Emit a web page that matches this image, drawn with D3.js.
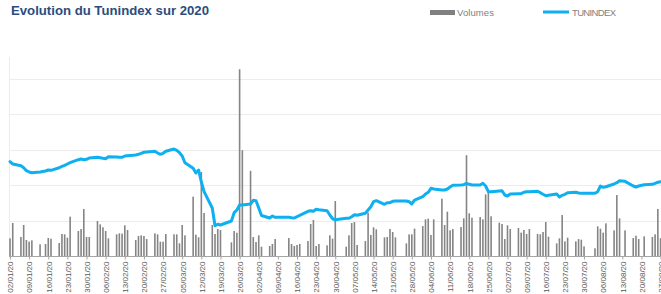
<!DOCTYPE html>
<html>
<head>
<meta charset="utf-8">
<script src="https://cdn.jsdelivr.net/npm/d3@7"></script>
<style>
  body { margin: 0; background: #fff; }
  svg { display: block; }
</style>
</head>
<body>
<div class="chart-container"></div>
<script>
// trading days 2020 (dd/mm)
const dates = [
  "02/01","03/01","06/01","07/01","08/01","09/01","10/01","13/01","15/01","16/01","17/01","20/01","21/01","22/01","23/01","24/01","27/01","28/01","29/01","30/01","31/01",
  "03/02","04/02","05/02","06/02","07/02","10/02","11/02","12/02","13/02","14/02","17/02","18/02","19/02","20/02","21/02","24/02","25/02","26/02","27/02","28/02",
  "02/03","03/03","04/03","05/03","06/03","09/03","10/03","11/03","12/03","13/03","16/03","17/03","18/03","19/03","23/03","24/03","25/03","26/03","27/03","30/03","31/03",
  "01/04","02/04","03/04","06/04","07/04","08/04","13/04","14/04","15/04","16/04","17/04","20/04","21/04","22/04","23/04","24/04","27/04","28/04","29/04","30/04",
  "04/05","05/05","06/05","07/05","08/05","11/05","12/05","13/05","14/05","15/05","18/05","19/05","20/05","21/05","22/05","26/05","27/05","28/05","29/05",
  "01/06","02/06","03/06","04/06","05/06","08/06","09/06","10/06","11/06","12/06","15/06","16/06","17/06","18/06","19/06","22/06","23/06","24/06","25/06","26/06","29/06","30/06",
  "01/07","02/07","03/07","06/07","07/07","08/07","09/07","10/07","13/07","14/07","15/07","16/07","17/07","20/07","21/07","22/07","23/07","24/07","27/07","28/07","29/07","30/07",
  "03/08","04/08","05/08","06/08","07/08","10/08","11/08","12/08","14/08","17/08","18/08","19/08","21/08","24/08","25/08","26/08","27/08"
];

// volumes (MD)
const volumes = [
  2.49,4.65,2.68,4.37,2.25,2.02,2.21,1.64,1.69,2.54,2.44,1.83,3.10,3.05,2.58,5.54,3.52,3.80,6.62,2.68,2.68,
  4.93,4.46,4.04,3.52,2.49,3.05,3.19,3.15,4.32,3.66,2.25,2.82,2.91,2.82,2.39,3.19,3.05,2.02,2.02,3.10,
  3.05,3.05,1.78,4.37,2.91,8.36,3.00,2.63,11.83,6.06,4.37,3.10,3.80,3.66,1.93,3.52,3.28,26.3,14.9,12.0,2.67,
  1.97,2.91,1.31,1.41,1.69,2.39,2.53,1.69,1.41,1.55,1.69,2.11,4.51,5.07,1.41,1.69,1.50,2.91,2.44,7.74,
  1.31,2.91,4.65,4.79,1.55,2.11,6.10,2.96,4.04,3.76,2.63,2.68,3.80,3.38,2.63,1.78,3.05,3.05,3.85,
  4.22,5.16,5.26,2.96,5.16,8.07,4.37,6.24,3.61,3.80,4.08,5.30,14.2,6.01,5.40,5.49,5.16,8.68,9.06,5.59,4.69,4.51,
  2.39,4.32,3.80,3.94,3.29,3.66,3.10,3.80,3.10,3.05,3.38,4.79,2.72,1.78,2.49,5.77,2.06,2.58,2.06,2.39,2.30,1.36,
  1.08,4.18,3.85,3.29,4.60,3.61,8.59,5.30,3.61,2.53,2.86,2.39,2.77,2.68,3.05,6.62,2.50
];

// TUNINDEX closing values
const tunindex = [
  6994,6955,6926,6892,6842,6820,6808,6820,6837,6853,6848,6892,6916,6933,6955,6977,7028,7039,7028,7034,7056,
  7068,7061,7051,7044,7078,7073,7068,7068,7090,7095,7107,7119,7136,7153,7158,7170,7141,7119,7136,7170,
  7208,7186,7146,7090,6977,6882,6803,6853,6651,6487,6211,5912,5936,5924,5992,6132,6177,6262,6262,6279,6341,
  6335,6211,6084,6042,6076,6054,6054,6047,6042,6064,6088,6155,6166,6155,6189,6182,6166,6093,6030,6013,
  6037,6037,6064,6098,6088,6122,6177,6233,6318,6335,6274,6301,6301,6324,6330,6330,6318,6279,6346,
  6402,6448,6477,6544,6532,6515,6515,6532,6566,6595,6600,6605,6629,6612,6600,6600,6629,6583,6487,6487,6499,6504,
  6431,6414,6448,6453,6453,6477,6487,6487,6494,6470,6443,6419,6426,6448,6397,6426,6443,6470,6477,6465,6460,6460,
  6460,6487,6583,6561,6571,6617,6639,6673,6662,6583,6566,6583,6605,6612,6629,6646,6656
];

const volTicks = [5, 10, 15, 20, 25];
const seriesNames = ["Volumes", "TUNINDEX"];
const title = "Evolution du Tunindex sur 2020";

const width = 661, height = 294;
const plot = {left: 10, top: 43, bottom: 256};

const parse = d3.utcParse("%d/%m/%Y");
const data = dates.map((d, i) => ({
  date: parse(d + "/2020"),
  vol: volumes[i],
  idx: tunindex[i]
}));

const start = Date.UTC(2020, 0, 2), end = Date.UTC(2020, 7, 27);
const xScale = d3.scaleUtc()
  .domain([start, end])
  .range([plot.left, plot.left + 238 * 2.7335]);

const yVol = d3.scaleLinear().domain([0, 30]).range([plot.bottom, plot.top]);
const yIdx = d3.scaleLinear().domain([5400, 9000]).range([plot.bottom, plot.top]);

const svg = d3.select('.chart-container')
  .append('svg')
  .attr('width', width)
  .attr('height', height);

//TITLE
svg.append('text')
  .attr('x', 11)
  .attr('y', 15)
  .attr('textLength', 198)
  .attr('lengthAdjust', 'spacingAndGlyphs')
  .style('font-family', 'Liberation Sans, Arial, sans-serif')
  .style('font-weight', 'bold')
  .style('font-size', '13px')
  .style('fill', '#2a4d80')
  .text(title);

//LEGEND
const legend = svg.append('g').style('font-family', 'Liberation Sans, Arial, sans-serif')
  .style('font-size', '9.5px').style('fill', '#7f7f7f');
legend.append('rect').attr('x', 430).attr('y', 10).attr('width', 25).attr('height', 5).style('fill', '#808080');
legend.append('text').attr('x', 457).attr('y', 15.5).attr('textLength', 37).text(seriesNames[0]);
legend.append('line').attr('x1', 543).attr('x2', 569).attr('y1', 12).attr('y2', 12)
  .style('stroke', '#0fb0ef').style('stroke-width', 3);
legend.append('text').attr('x', 572).attr('y', 15.5).attr('textLength', 44).text(seriesNames[1]);

//GRID
svg.append('g').selectAll('line')
  .data(volTicks)
  .enter().append('line')
  .attr('x1', plot.left - 1).attr('x2', width)
  .attr('y1', d => Math.round(yVol(d)) + 0.5)
  .attr('y2', d => Math.round(yVol(d)) + 0.5)
  .style('stroke', '#ececec');

svg.append('line')
  .attr('x1', 9.5).attr('x2', 9.5)
  .attr('y1', 57).attr('y2', plot.bottom)
  .style('stroke', '#ececec');

//BARS
svg.append('g').selectAll('rect')
  .data(data)
  .enter().append('rect')
  .attr('x', d => xScale(d.date) - 0.8)
  .attr('width', 1.6)
  .attr('y', d => yVol(d.vol))
  .attr('height', d => plot.bottom - yVol(d.vol))
  .style('fill', '#858585');

//X AXIS
const ticks = d3.utcThursday.range(new Date(start), new Date(end + 86400000));
const xAxis = d3.axisBottom(xScale)
  .tickValues(ticks)
  .tickSize(3)
  .tickFormat(d3.utcFormat('%d/%m/%y'));

const gx = svg.append('g')
  .attr('transform', `translate(0, ${plot.bottom + 0.5})`)
  .call(xAxis);
gx.select('.domain').style('stroke', '#a6a6a6');
gx.selectAll('.tick line').style('stroke', '#a6a6a6');
gx.selectAll('.tick text')
  .style('font-family', 'Liberation Sans, Arial, sans-serif')
  .style('font-size', '8px')
  .style('fill', '#595959')
  .style('text-anchor', 'end')
  .attr('transform', 'rotate(-90)')
  .attr('x', -5)
  .attr('y', 0)
  .attr('dy', '0.35em');
gx.select('.domain').attr('d', `M${plot.left - 1},0H${width}`);

//LINE
const line = d3.line()
  .x(d => xScale(d.date))
  .y(d => yIdx(d.idx));

svg.append('path')
  .datum(data)
  .attr('d', line)
  .style('fill', 'none')
  .style('stroke', '#0fb0ef')
  .style('stroke-width', 3)
  .style('stroke-linejoin', 'round')
  .style('stroke-linecap', 'round');
</script>
</body>
</html>
